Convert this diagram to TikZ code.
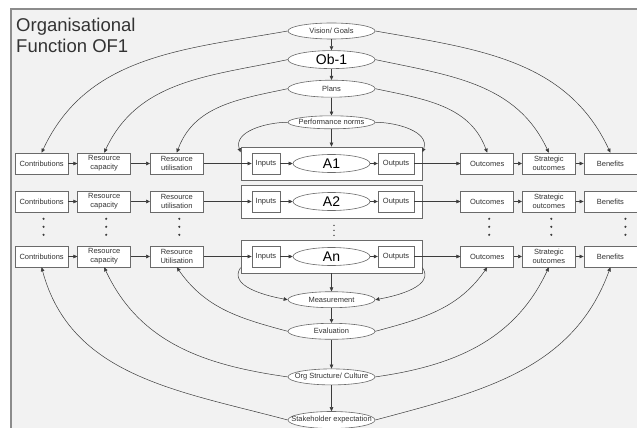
\documentclass[tikz,border=0pt]{standalone}
\usepackage{fontspec}
\setmainfont{Liberation Sans}
\usetikzlibrary{positioning,shapes,arrows.meta}
\definecolor{bgcol}{HTML}{F2F2F2}
\definecolor{framecol}{HTML}{8C8C8C}
\definecolor{linecol}{HTML}{3C3C3C}
\definecolor{edgecol}{HTML}{6A6A6A}
\tikzstyle{block} = [rectangle, draw=edgecol, fill=white, line width=0.6pt, minimum width=53pt, minimum height=21pt, inner sep=1pt, align=center, font=\fontsize{7.5}{9}\selectfont, text=black!80]
\tikzstyle{oval} = [ellipse, draw=edgecol, fill=white, line width=0.6pt, minimum width=87pt, minimum height=16pt, inner sep=0pt, font=\fontsize{7.5}{9}\selectfont, text=black!80]
\tikzstyle{bigoval} = [oval, minimum height=18pt, font=\fontsize{14}{16}\selectfont, text=black]
\tikzstyle{actoval} = [oval, minimum width=77pt, minimum height=18pt, font=\fontsize{14}{16}\selectfont, text=black]
\tikzstyle{frame} = [rectangle, draw=edgecol, fill=white, line width=0.8pt, minimum width=181pt, minimum height=33pt]
\tikzstyle{arrow} = [-{Stealth[length=4pt,width=3.6pt,inset=0pt]}, draw=linecol, line width=0.5pt]
\newcommand{\fixtext}[1]% #1 = text, keeps the ellipse at its minimum size
{\makebox[0pt]{#1}}

\begin{document}
\begin{tikzpicture}[x=1pt,y=1pt]
		\useasboundingbox (0,0) rectangle (637,-428);
		\fill [white] (0,0) rectangle (637,-428);
		\draw [framecol, fill=bgcol, line width=1.2pt] (11,-9) rectangle (660,-450);
		\node (title) [anchor=north west, align=left, inner sep=0pt, font=\fontsize{18.5}{21}\selectfont, text=black!80] at (16,-17.5) {Organisational\\Function OF1};
		
		\node (a1-box) [frame] at (331.5,-163.5) {};
		\node (a2-box) [frame] at (331.5,-201.5) {};
		\node (an-box) [frame] at (331.5,-256.5) {};
		
		\node (vision) [oval] at (331.5,-31) {\fixtext{Vision/ Goals}};
		\node (ob-1) [bigoval,below=11pt of vision] {\fixtext{Ob-1}};
		\node (plans) [oval,minimum height=17pt,below=11pt of ob-1] {\fixtext{Plans}};
		\node (norms) [oval,minimum height=13pt,below=18pt of plans] {\fixtext{Performance norms}};
		
		\node (in-1) [block,minimum width=28pt,right=11pt of a1-box.west] {Inputs};
		\node (act-1) [actoval] at (a1-box) {\fixtext{A1}};
		\node (out-1) [block,minimum width=36pt,left=8pt of a1-box.east] {Outputs};
		\node (util-1) [block,left=37pt of a1-box] {Resource\\utilisation};
		\node (cap-1) [block,left=19pt of util-1] {Resource\\capacity};
		\node (contrib-1) [block,left=9pt of cap-1] {Contributions};
		\node (outcome-1) [block,right=38pt of a1-box] {Outcomes};
		\node (strategic-1) [block,right=8pt of outcome-1] {Strategic\\outcomes};
		\node (benefit-1) [block,right=8pt of strategic-1] {Benefits};
		
		\node (in-2) [block,minimum width=28pt,right=11pt of a2-box.west] {Inputs};
		\node (act-2) [actoval] at (a2-box) {\fixtext{A2}};
		\node (out-2) [block,minimum width=36pt,left=8pt of a2-box.east] {Outputs};
		\node (util-2) [block,left=37pt of a2-box] {Resource\\utilisation};
		\node (cap-2) [block,left=19pt of util-2] {Resource\\capacity};
		\node (contrib-2) [block,left=9pt of cap-2] {Contributions};
		\node (outcome-2) [block,right=38pt of a2-box] {Outcomes};
		\node (strategic-2) [block,right=8pt of outcome-2] {Strategic\\outcomes};
		\node (benefit-2) [block,right=8pt of strategic-2] {Benefits};
		
		\node (in-n) [block,minimum width=28pt,right=11pt of an-box.west] {Inputs};
		\node (act-n) [actoval] at (an-box) {\fixtext{An}};
		\node (out-n) [block,minimum width=36pt,left=8pt of an-box.east] {Outputs};
		\node (util-n) [block,left=37pt of an-box] {Resource\\Utilisation};
		\node (cap-n) [block,left=19pt of util-n] {Resource\\capacity};
		\node (contrib-n) [block,left=9pt of cap-n] {Contributions};
		\node (outcome-n) [block,right=38pt of an-box] {Outcomes};
		\node (strategic-n) [block,right=8pt of outcome-n] {Strategic\\outcomes};
		\node (benefit-n) [block,right=8pt of strategic-n] {Benefits};
		
		\node (measure) [oval,below=18pt of an-box] {\fixtext{Measurement}};
		\node (evaluate) [oval,below=15pt of measure] {\fixtext{Evaluation}};
		\node (culture) [oval,below=29pt of evaluate] {\fixtext{Org Structure/ Culture}};
		\node (stakeholder) [oval,minimum height=17pt,below=26pt of culture] {\fixtext{Stakeholder expectation}};
		
		\draw [arrow] (vision) -- (ob-1);
		\draw [arrow] (ob-1) -- (plans);
		\draw [arrow] (plans) -- (norms);
		\draw [arrow] (norms) -- (a1-box);
		
		\draw [arrow] (contrib-1) -- (cap-1);
		\draw [arrow] (cap-1) -- (util-1);
		\draw [arrow] (util-1) -- (in-1);
		\draw [arrow] (in-1) -- (act-1);
		\draw [arrow] (act-1) -- (out-1);
		\draw [arrow] (out-1) -- (outcome-1);
		\draw [arrow] (outcome-1) -- (strategic-1);
		\draw [arrow] (strategic-1) -- (benefit-1);
		
		\draw [arrow] (contrib-2) -- (cap-2);
		\draw [arrow] (cap-2) -- (util-2);
		\draw [arrow] (util-2) -- (in-2);
		\draw [arrow] (in-2) -- (act-2);
		\draw [arrow] (act-2) -- (out-2);
		\draw [arrow] (out-2) -- (outcome-2);
		\draw [arrow] (outcome-2) -- (strategic-2);
		\draw [arrow] (strategic-2) -- (benefit-2);
		
		\draw [arrow] (contrib-n) -- (cap-n);
		\draw [arrow] (cap-n) -- (util-n);
		\draw [arrow] (util-n) -- (in-n);
		\draw [arrow] (in-n) -- (act-n);
		\draw [arrow] (act-n) -- (out-n);
		\draw [arrow] (out-n) -- (outcome-n);
		\draw [arrow] (outcome-n) -- (strategic-n);
		\draw [arrow] (strategic-n) -- (benefit-n);
		
		\draw [arrow] (vision.west) to[out=190,in=65] (contrib-1.north);
		\draw [arrow] (ob-1.west) to[out=192,in=65] (cap-1.north);
		\draw [arrow] (plans.west) to[out=192,in=70] (util-1.north);
		\draw [arrow] (vision.east) to[out=-10,in=115] (benefit-1.north);
		\draw [arrow] (ob-1.east) to[out=-12,in=115] (strategic-1.north);
		\draw [arrow] (plans.east) to[out=-12,in=110] (outcome-1.north);
		\draw [arrow] (norms.west) to[out=180,in=110] (a1-box.173);
		\draw [arrow] (norms.east) to[out=0,in=70] (a1-box.7);
		
		\draw [arrow] (an-box) -- (measure);
		\draw [arrow] (an-box.187) to[out=235,in=170] (measure.west);
		\draw [arrow] (an-box.-7) to[out=-55,in=10] (measure.east);
		\draw [arrow] (measure) -- (evaluate);
		\draw [arrow] (evaluate) -- (culture);
		\draw [arrow] (culture) -- (stakeholder);
		
		\draw [arrow] (evaluate.west) to[out=165,in=-55] (util-n.south);
		\draw [arrow] (culture.west) to[out=172,in=-65] (cap-n.south);
		\draw [arrow] (stakeholder.west) to[out=165,in=-75] (contrib-n.south);
		\draw [arrow] (evaluate.east) to[out=15,in=-125] (outcome-n.south);
		\draw [arrow] (culture.east) to[out=8,in=-115] (strategic-n.south);
		\draw [arrow] (stakeholder.east) to[out=15,in=-110] (benefit-n.south);
		
		%dots between the rows
		\foreach \col/\dx in {contrib-2/2,cap-2/2,util-2/2.5,outcome-2/2,strategic-2/2.5,benefit-2/15}
			\foreach \dy in {6.5,14.5,22.5}
				\fill [linecol] ([xshift=\dx pt,yshift=-\dy pt]\col.south) circle (1.2pt);
		\foreach \dy in {7,12,17}
			\fill [linecol] ([xshift=2.5pt,yshift=-\dy pt]a2-box.south) circle (0.8pt);
	
	\end{tikzpicture}
\end{document}
